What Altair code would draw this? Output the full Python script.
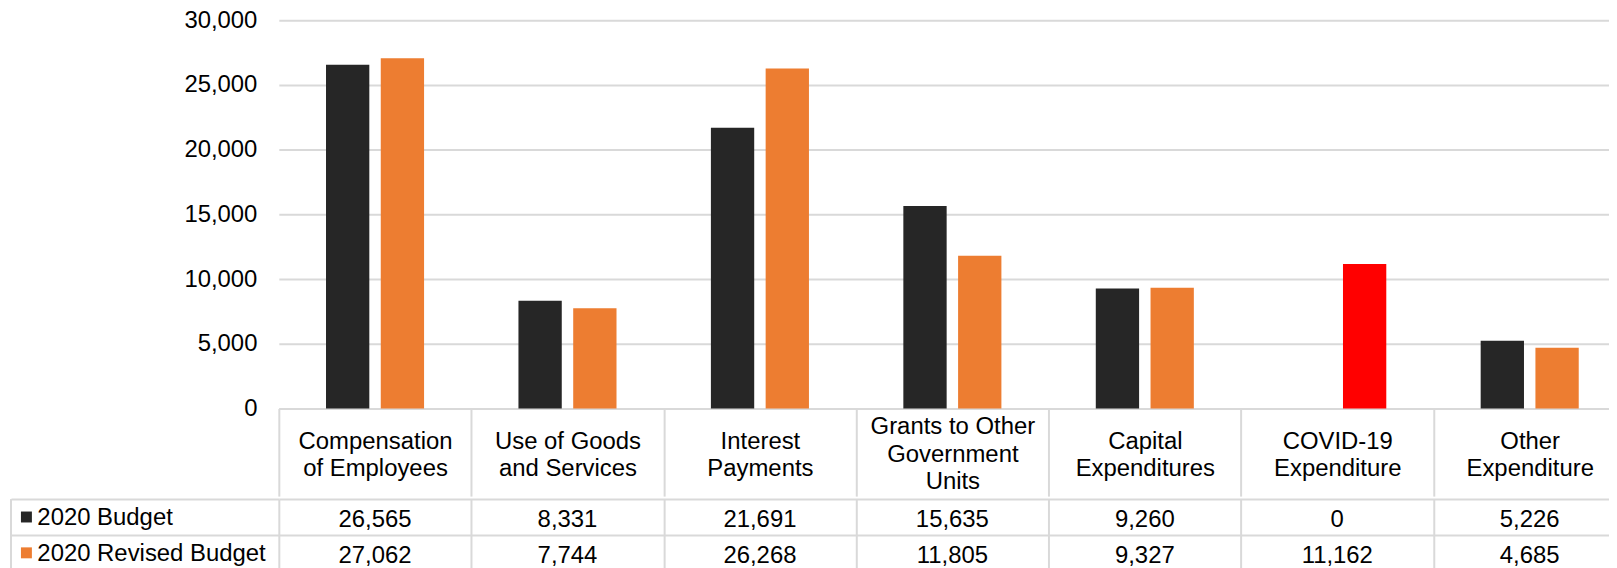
import altair as alt
import pandas as pd

FONT = "Liberation Sans"
GRID = "#d9d9d9"
FS = 24

# ---- data ----
categories = [
    "Compensation|of Employees",
    "Use of Goods|and Services",
    "Interest|Payments",
    "Grants to Other|Government|Units",
    "Capital|Expenditures",
    "COVID-19|Expenditure",
    "Other|Expenditure",
]
series = ["2020 Budget", "2020 Revised Budget"]
budget_2020 = [26565, 8331, 21691, 15635, 9260, 0, 5226]
revised_2020 = [27062, 7744, 26268, 11805, 9327, 11162, 4685]
y_ticks = [0, 5000, 10000, 15000, 20000, 25000, 30000]
highlight_category = "COVID-19|Expenditure"
highlight_key = "COVID-19 Revised"

color_domain = ["2020 Budget", "2020 Revised Budget", highlight_key]
color_range = ["#262626", "#ED7D31", "#FF0000"]

rows = []
for cat, b, r in zip(categories, budget_2020, revised_2020):
    rows.append({"category": cat, "series": series[0], "value": b, "colorKey": series[0]})
    key = highlight_key if cat == highlight_category else series[1]
    rows.append({"category": cat, "series": series[1], "value": r, "colorKey": key})
df = pd.DataFrame(rows)

legend_df = pd.DataFrame({"series": series, "colorKey": series})
border_df = pd.DataFrame({"k": [0]})

color_scale = alt.Scale(domain=color_domain, range=color_range)
x_scale = alt.Scale(domain=categories, paddingInner=0, paddingOuter=0)

bars = alt.Chart(df).mark_bar().encode(
    x=alt.X(
        "category:N",
        sort=categories,
        scale=x_scale,
        axis=alt.Axis(
            title=None,
            labelExpr="datum.value ? split(datum.value, '|') : ''",
            labelFont=FONT,
            labelFontSize=FS,
            labelLineHeight=27.5,
            labelColor="#000000",
            labelAngle=0,
            labelBaseline="middle",
            labelPadding={"expr": "datum.value && length(split(datum.value, '|')) > 2 ? -69.5 : -55"},
            labelOverlap=False,
            labelLimit=400,
            ticks=True,
            tickSize=88,
            tickBand="extent",
            tickColor=GRID,
            tickWidth=2,
            domainColor=GRID,
            domainWidth=2,
        ),
    ),
    xOffset=alt.XOffset(
        "series:N", sort=series, scale=alt.Scale(domain=series, paddingInner=0.209, paddingOuter=0.862)
    ),
    y=alt.Y(
        "value:Q",
        scale=alt.Scale(domain=[0, 30000]),
        axis=alt.Axis(
            title=None,
            values=y_ticks,
            format=",.0f",
            labelFont=FONT,
            labelFontSize=FS,
            labelColor="#000000",
            labelPadding=22,
            ticks=False,
            domain=False,
            gridColor=GRID,
            gridWidth=2,
        ),
    ),
    color=alt.Color("colorKey:N", scale=color_scale, legend=None),
).properties(width=1353, height=390)

text = alt.Chart(df).mark_text(font=FONT, fontSize=FS, color="#000000", dy=3).encode(
    x=alt.X(
        "category:N",
        sort=categories,
        scale=x_scale,
        axis=alt.Axis(
            title=None,
            labels=False,
            ticks=False,
            domain=False,
            grid=True,
            tickBand="extent",
            gridColor=GRID,
            gridWidth=2,
        ),
    ),
    y=alt.Y(
        "series:N",
        sort=series,
        scale=alt.Scale(domain=series, paddingInner=0, paddingOuter=0),
        axis=alt.Axis(
            title=None,
            labelAlign="left",
            labelBaseline="middle",
            labelPadding=-26,
            labelOffset=1,
            labelFont=FONT,
            labelFontSize=FS,
            labelColor="#000000",
            labelLimit=400,
            ticks=True,
            tickSize=269,
            tickBand="extent",
            tickColor=GRID,
            tickWidth=2,
            grid=True,
            gridColor=GRID,
            gridWidth=2,
            domain=False,
        ),
    ),
    text=alt.Text("value:Q", format=",.0f"),
)

squares = alt.Chart(legend_df).mark_square(size=121, opacity=1).encode(
    x=alt.value(-253.5),
    y=alt.Y("series:N", sort=series),
    color=alt.Color("colorKey:N", scale=color_scale, legend=None),
)

border = alt.Chart(border_df).mark_rule(color=GRID, strokeWidth=2).encode(
    x=alt.value(-269), y=alt.value(0), y2=alt.value(72)
)

table = alt.layer(text, squares, border).properties(width=1353, height=72)

# The reference crops the last column at the window edge: a negative right
# padding trims the SVG to the window width so the page does not overflow.
chart = (
    alt.vconcat(bars, table, spacing=-10)
    .properties(padding={"left": 2, "top": -1, "right": -18, "bottom": -4})
    .configure_view(strokeWidth=0)
)

chart.save("out.html", embed_options={"renderer": "svg", "actions": False})
